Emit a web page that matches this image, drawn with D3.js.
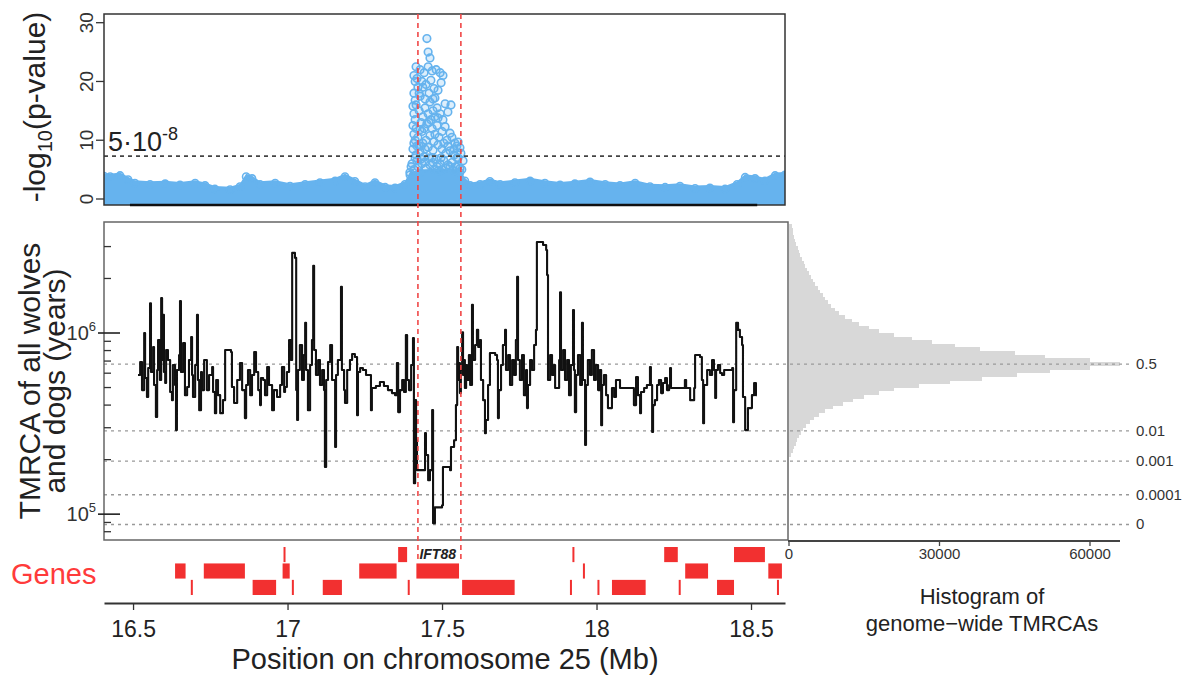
<!DOCTYPE html>
<html>
<head>
<meta charset="utf-8">
<script src="https://cdn.jsdelivr.net/npm/d3@7"></script>
<style>
  body { margin: 0; background: #fff; }
  svg { font-family: "Liberation Sans", Arial, Helvetica, sans-serif; }
</style>
</head>
<body>
<svg id="chart"></svg>
<script>
// ---------- Data ----------

// Tick values and labels
let positionTicks = [16.5, 17, 17.5, 18, 18.5];
let pvalueTicks = [0, 10, 20, 30];
let histTicks = [0, 30000, 60000];
let quantileLabels = ['0.5', '0.01', '0.001', '0.0001', '0'];
let quantileValues = [674e3, 288e3, 196e3, 128e3, 87.7e3];

// Region around IFT88 (red dashed lines), Mb
let regionBounds = [17.422, 17.561];

// GWAS background: upper edge of the dense SNP band [position Mb, -log10 p]
let backgroundTop = [
  [16.406, 4.4], [16.426, 4.3], [16.458, 4.5], [16.484, 3.8], [16.506, 3.2], [16.555, 3.0],
  [16.604, 3.1], [16.652, 2.9], [16.701, 3.2], [16.733, 2.8], [16.765, 2.2], [16.814, 2.1],
  [16.846, 2.6], [16.866, 4.3], [16.885, 4.0], [16.911, 3.0], [16.960, 3.2], [17.008, 2.7],
  [17.057, 3.0], [17.105, 3.3], [17.154, 3.6], [17.186, 4.3], [17.218, 3.5], [17.251, 2.6],
  [17.283, 3.3], [17.316, 2.5], [17.348, 2.4], [17.380, 3.0], [17.396, 4.6], [17.429, 5.0],
  [17.494, 5.2], [17.558, 5.0], [17.574, 3.6], [17.591, 2.8], [17.623, 3.0], [17.655, 3.5],
  [17.688, 3.0], [17.736, 3.3], [17.785, 3.6], [17.833, 3.2], [17.882, 2.9], [17.930, 3.1],
  [17.979, 3.4], [18.028, 3.0], [18.076, 2.8], [18.125, 3.2], [18.173, 2.6], [18.222, 2.5],
  [18.270, 2.7], [18.319, 2.3], [18.367, 2.4], [18.416, 2.2], [18.455, 3.0], [18.481, 4.2],
  [18.513, 4.0], [18.545, 3.6], [18.578, 4.5], [18.610, 4.6]
];

// GWAS peak SNPs [position Mb, -log10 p]
let peakSnps = [
  [17.451, 27.3], [17.455, 25.0], [17.461, 24.0], [17.416, 22.5], [17.429, 22.0], [17.442, 21.5],
  [17.455, 22.5], [17.468, 21.8], [17.481, 22.0], [17.494, 21.5], [17.503, 21.0], [17.419, 20.5],
  [17.435, 20.0], [17.448, 19.5], [17.464, 20.2], [17.474, 18.8], [17.487, 18.5], [17.497, 19.8],
  [17.422, 19.0], [17.409, 18.0], [17.429, 17.5], [17.445, 17.0], [17.461, 16.5], [17.477, 17.2],
  [17.510, 16.2], [17.529, 16.0], [17.519, 14.8], [17.416, 16.0], [17.426, 15.0], [17.438, 14.0],
  [17.455, 14.5], [17.471, 15.0], [17.487, 13.8], [17.510, 12.3], [17.526, 11.2], [17.552, 9.7],
  [17.558, 8.7], [17.542, 9.5], [17.532, 10.5], [17.516, 10.0], [17.500, 11.5], [17.484, 12.5],
  [17.468, 12.0], [17.451, 12.8], [17.432, 13.0], [17.413, 13.5], [17.409, 11.0], [17.422, 10.5],
  [17.435, 11.5], [17.448, 10.0], [17.461, 10.8], [17.474, 9.8], [17.487, 9.2], [17.500, 8.5],
  [17.513, 7.8], [17.526, 8.2], [17.539, 7.5], [17.552, 7.0], [17.561, 7.8], [17.568, 6.5],
  [17.406, 8.5], [17.416, 7.5], [17.429, 8.0], [17.442, 7.2], [17.455, 8.8], [17.468, 7.0],
  [17.481, 6.8], [17.494, 6.0], [17.506, 6.5], [17.519, 5.8], [17.532, 6.2], [17.545, 5.5],
  [17.558, 5.2], [17.403, 6.0], [17.409, 5.0], [17.422, 5.5], [17.435, 6.0], [17.448, 5.2],
  [17.461, 5.8], [17.474, 5.0], [17.487, 4.8], [17.500, 5.0], [17.396, 4.5], [17.400, 5.5],
  [17.426, 18.0], [17.438, 19.0], [17.445, 15.5], [17.458, 18.0], [17.471, 17.0], [17.484, 15.5],
  [17.413, 20.0], [17.442, 12.0], [17.494, 14.5], [17.503, 13.5], [17.426, 9.0], [17.438, 9.5],
  [17.458, 13.0], [17.477, 11.0], [17.490, 10.5], [17.506, 9.5], [17.519, 9.0], [17.539, 8.5],
  [17.548, 7.0], [17.409, 14.5], [17.413, 16.8], [17.409, 9.5], [17.413, 7.0], [17.416, 12.0],
  [17.419, 9.0], [17.406, 12.5], [17.413, 10.0], [17.406, 15.8], [17.409, 21.0], [17.419, 6.5],
  [17.432, 6.8], [17.445, 6.3], [17.458, 7.0], [17.471, 6.2], [17.484, 5.5], [17.497, 7.0],
  [17.513, 5.2], [17.526, 5.5], [17.539, 4.8], [17.552, 5.6], [17.564, 5.0], [17.432, 9.0],
  [17.445, 8.5], [17.471, 8.3], [17.429, 11.8], [17.464, 13.5], [17.477, 14.0], [17.548, 9.0]
];

// TMRCA of all wolves and dogs, step function [position Mb, TMRCA in thousand years]
let tmrcaSteps = [
  [16.516, 586], [16.523, 692], [16.529, 484], [16.536, 1000], [16.539, 564], [16.545, 443],
  [16.549, 641], [16.555, 1460], [16.558, 609], [16.565, 837], [16.568, 516], [16.574, 344],
  [16.578, 625], [16.581, 915], [16.587, 550], [16.591, 1560], [16.594, 709], [16.597, 1260],
  [16.600, 609], [16.604, 530], [16.607, 806], [16.613, 709], [16.620, 472], [16.626, 426],
  [16.629, 666], [16.636, 516], [16.639, 291], [16.642, 625], [16.649, 756], [16.652, 1500],
  [16.655, 609], [16.662, 881], [16.668, 454], [16.675, 503], [16.681, 709], [16.688, 950],
  [16.691, 586], [16.694, 443], [16.701, 666], [16.707, 1260], [16.710, 550], [16.714, 375],
  [16.720, 609], [16.723, 484], [16.730, 709], [16.739, 484], [16.746, 586], [16.756, 649],
  [16.759, 472], [16.765, 361], [16.769, 550], [16.775, 454], [16.782, 361], [16.791, 426],
  [16.798, 806], [16.817, 785], [16.820, 503], [16.827, 411], [16.837, 550], [16.846, 683],
  [16.853, 484], [16.862, 339], [16.866, 516], [16.872, 625], [16.879, 454], [16.885, 586],
  [16.892, 785], [16.898, 609], [16.905, 484], [16.911, 400], [16.914, 564], [16.921, 550],
  [16.927, 454], [16.934, 649], [16.940, 516], [16.950, 375], [16.956, 484], [16.966, 443],
  [16.976, 516], [16.982, 649], [16.989, 472], [16.992, 503], [16.998, 609], [17.005, 915],
  [17.011, 709], [17.015, 2770], [17.024, 2600], [17.028, 484], [17.031, 331], [17.034, 625],
  [17.040, 859], [17.047, 550], [17.053, 756], [17.057, 1140], [17.060, 625], [17.066, 375],
  [17.073, 666], [17.079, 915], [17.083, 2350], [17.086, 806], [17.092, 586], [17.099, 709],
  [17.105, 516], [17.112, 625], [17.118, 484], [17.121, 182], [17.125, 550], [17.131, 692],
  [17.138, 859], [17.144, 550], [17.154, 235], [17.157, 586], [17.163, 709], [17.173, 1800],
  [17.176, 625], [17.183, 484], [17.186, 411], [17.193, 625], [17.202, 709], [17.209, 766],
  [17.218, 737], [17.225, 352], [17.228, 609], [17.235, 641], [17.244, 625], [17.254, 586],
  [17.270, 375], [17.273, 497], [17.286, 510], [17.299, 536], [17.312, 510], [17.325, 484],
  [17.338, 466], [17.348, 454], [17.354, 683], [17.358, 366], [17.364, 484], [17.371, 550],
  [17.377, 472], [17.383, 975], [17.387, 550], [17.393, 484], [17.400, 666], [17.406, 938],
  [17.409, 148], [17.413, 426], [17.416, 256], [17.419, 175], [17.445, 280], [17.448, 212],
  [17.455, 154], [17.461, 175], [17.468, 375], [17.471, 89], [17.477, 109], [17.500, 112],
  [17.503, 182], [17.526, 175], [17.529, 235], [17.539, 256], [17.545, 400], [17.549, 837],
  [17.552, 550], [17.555, 683], [17.558, 466], [17.561, 625], [17.565, 1010], [17.568, 586],
  [17.571, 709], [17.574, 497], [17.578, 666], [17.581, 550], [17.587, 756], [17.591, 516],
  [17.597, 1430], [17.600, 709], [17.607, 859], [17.613, 1040], [17.617, 837], [17.623, 915],
  [17.626, 550], [17.633, 426], [17.639, 280], [17.642, 331], [17.649, 516], [17.655, 775],
  [17.672, 756], [17.678, 709], [17.681, 339], [17.684, 484], [17.691, 666], [17.697, 859],
  [17.704, 1040], [17.707, 625], [17.714, 756], [17.720, 516], [17.727, 709], [17.733, 586],
  [17.739, 915], [17.743, 2040], [17.746, 709], [17.752, 550], [17.759, 756], [17.765, 454],
  [17.772, 625], [17.775, 385], [17.778, 516], [17.785, 709], [17.791, 625], [17.798, 859],
  [17.804, 1040], [17.807, 3180], [17.827, 3060], [17.837, 2870], [17.840, 2090], [17.843, 550],
  [17.850, 756], [17.856, 586], [17.862, 666], [17.866, 497], [17.879, 709], [17.882, 1680],
  [17.885, 625], [17.892, 806], [17.898, 550], [17.905, 709], [17.911, 454], [17.917, 666],
  [17.924, 1340], [17.927, 625], [17.930, 366], [17.934, 586], [17.940, 756], [17.947, 516],
  [17.953, 1140], [17.956, 550], [17.963, 241], [17.966, 516], [17.972, 709], [17.979, 586],
  [17.985, 806], [17.992, 550], [17.998, 666], [18.005, 484], [18.011, 625], [18.015, 310],
  [18.018, 516], [18.024, 586], [18.031, 454], [18.037, 385], [18.050, 497], [18.057, 443],
  [18.063, 550], [18.076, 497], [18.121, 400], [18.128, 571], [18.134, 454], [18.141, 361],
  [18.144, 472], [18.154, 497], [18.163, 516], [18.173, 649], [18.176, 516], [18.180, 284],
  [18.183, 400], [18.189, 426], [18.196, 516], [18.202, 550], [18.209, 466], [18.215, 530],
  [18.222, 564], [18.228, 484], [18.235, 516], [18.238, 641], [18.241, 497], [18.286, 550],
  [18.290, 497], [18.303, 426], [18.316, 497], [18.319, 756], [18.335, 737], [18.341, 550],
  [18.345, 318], [18.348, 516], [18.358, 625], [18.367, 586], [18.374, 709], [18.380, 625],
  [18.384, 438], [18.387, 625], [18.393, 666], [18.400, 601], [18.406, 586], [18.413, 625],
  [18.439, 641], [18.442, 322], [18.445, 484], [18.452, 1140], [18.458, 1040], [18.464, 950],
  [18.471, 859], [18.474, 443], [18.481, 291], [18.490, 385], [18.503, 454], [18.510, 530],
  [18.516, 454], [18.519, 454]
];

// Genome-wide TMRCA histogram: counts per bin of log10(years)
let histFirstBin = 5.32;
let histBinWidth = 0.02;
let histCounts = [
  350, 750, 1050, 1350, 1650, 1950, 2400, 2850, 3450, 4100, 4900, 5900, 7100, 8700, 10800, 12700,
  15000, 18000, 21000, 26000, 32000, 38500, 45500, 52000, 60000, 66000, 60000, 51000, 45000, 38000,
  33000, 28500, 24500, 21000, 18000, 16000, 14000, 12500, 11200, 10000, 9200, 8400, 7800, 7200,
  6700, 6200, 5700, 5200, 4800, 4400, 4000, 3600, 3250, 2900, 2550, 2250, 1950, 1700, 1450, 1250,
  1050, 850, 700, 550
];

// Genes [start Mb, end Mb, track row]
let genes = [
  [16.987, 16.990, 0], [17.358, 17.387, 0], [17.922, 17.925, 0], [18.219, 18.263, 0], [18.445, 18.545, 0],
  [16.636, 16.670, 1], [16.729, 16.862, 1], [16.984, 17.007, 1], [17.232, 17.353, 1], [17.417, 17.555, 1],
  [17.956, 17.959, 1], [18.287, 18.361, 1], [18.556, 18.600, 1],
  [16.687, 16.690, 2], [16.887, 16.963, 2], [17.014, 17.017, 2], [17.114, 17.176, 2], [17.389, 17.392, 2],
  [17.565, 17.735, 2], [17.914, 17.917, 2], [18.003, 18.006, 2], [18.050, 18.159, 2], [18.266, 18.269, 2],
  [18.390, 18.445, 2], [18.584, 18.587, 2]
];

// ---------- Drawing ----------
let width = 1194, height = 675;
let blue = '#66b3ee', red = '#f23030';

let svg = d3.select('#chart').attr('width', width).attr('height', height);

let x = d3.scaleLinear().domain([16.406, 18.61]).range([104, 785]);
let yP = d3.scaleLinear().domain([0, 30]).range([199, 22.7]);
let yT = d3.scaleLog().domain([72000, 4100000]).range([540, 222]);
let xH = d3.scaleLinear().domain([0, 60000]).range([789, 1090]);
let rowY = d3.scaleBand().domain([0, 1, 2]).range([547, 595]).paddingInner(0.08);

let defs = svg.append('defs');
defs.append('clipPath').attr('id', 'clipTop')
  .append('rect').attr('x', 104).attr('y', 14).attr('width', 681).attr('height', 191);
defs.append('clipPath').attr('id', 'clipMid')
  .append('rect').attr('x', 104).attr('y', 222).attr('width', 684).attr('height', 318);
defs.append('clipPath').attr('id', 'clipHist')
  .append('rect').attr('x', 789).attr('y', 222).attr('width', 400).attr('height', 318);

// Function to draw the GWAS panel
function drawGwas() {
  let g = svg.append('g').attr('clip-path', 'url(#clipTop)');

  let band = d3.area()
    .x(d => x(d[0]))
    .y0(yP(-1))
    .y1(d => yP(d[1]));

  g.append('path')
    .datum(backgroundTop)
    .attr('d', band)
    .attr('fill', blue);

  g.selectAll('circle.bg')
    .data(backgroundTop)
    .enter()
    .append('circle')
    .attr('cx', d => x(d[0]))
    .attr('cy', d => yP(d[1] - 0.5))
    .attr('r', 3.6)
    .attr('fill', 'none')
    .attr('stroke', blue)
    .attr('stroke-width', 1.6);

  g.selectAll('circle.snp')
    .data(peakSnps)
    .enter()
    .append('circle')
    .attr('cx', d => x(d[0]))
    .attr('cy', d => yP(d[1]))
    .attr('r', 3.8)
    .attr('fill', 'rgba(102,179,238,0.22)')
    .attr('stroke', blue)
    .attr('stroke-width', 1.6);

  // genome-wide significance 5e-8
  g.append('line')
    .attr('x1', 104).attr('x2', 785)
    .attr('y1', yP(-Math.log10(5e-8))).attr('y2', yP(-Math.log10(5e-8)))
    .attr('stroke', '#444').attr('stroke-width', 1.8).attr('stroke-dasharray', '4,4');

  svg.append('rect')
    .attr('x', 104).attr('y', 14).attr('width', 681).attr('height', 191)
    .attr('fill', 'none').attr('stroke', '#333').attr('stroke-width', 1.5);
  svg.append('line')
    .attr('x1', x(16.49)).attr('x2', x(18.52)).attr('y1', 205).attr('y2', 205)
    .attr('stroke', '#111').attr('stroke-width', 2.5);

  pvalueTicks.forEach(t => {
    svg.append('line').attr('x1', 96).attr('x2', 104).attr('y1', yP(t)).attr('y2', yP(t))
      .attr('stroke', '#333').attr('stroke-width', 1.3);
    svg.append('text')
      .attr('transform', `translate(93,${yP(t)}) rotate(-90)`)
      .attr('text-anchor', 'middle')
      .attr('font-size', 19).attr('fill', '#333')
      .text(t);
  });

  let thr = svg.append('text').attr('x', 108).attr('y', 151).attr('font-size', 27).attr('fill', '#222');
  thr.append('tspan').text('5·10');
  thr.append('tspan').attr('dy', -11).attr('font-size', 18).text('-8');

  let title = svg.append('text')
    .attr('transform', 'translate(45,107) rotate(-90)')
    .attr('text-anchor', 'middle')
    .attr('font-size', 30).attr('fill', '#222');
  title.append('tspan').text('-log');
  title.append('tspan').attr('dy', 7).attr('font-size', 20).text('10');
  title.append('tspan').attr('dy', -7).text('(p-value)');
}

// Function to draw the TMRCA panel and the histogram
function drawTmrca() {
  // histogram
  svg.append('g').attr('clip-path', 'url(#clipHist)')
    .selectAll('rect')
    .data(histCounts)
    .enter()
    .append('rect')
    .attr('x', xH(0))
    .attr('y', (d, i) => yT(Math.pow(10, histFirstBin + (i + 1) * histBinWidth)))
    .attr('height', (d, i) => yT(Math.pow(10, histFirstBin + i * histBinWidth)) -
      yT(Math.pow(10, histFirstBin + (i + 1) * histBinWidth)) + 0.4)
    .attr('width', d => xH(d) - xH(0))
    .attr('fill', '#d8d8d8')
    .attr('shape-rendering', 'crispEdges');

  // quantile lines
  quantileValues.forEach((q, i) => {
    svg.append('line')
      .attr('x1', 104).attr('x2', 1130)
      .attr('y1', yT(q)).attr('y2', yT(q))
      .attr('stroke', '#999').attr('stroke-width', 1.3).attr('stroke-dasharray', '3,4');
    svg.append('text')
      .attr('x', 1136).attr('y', yT(q) + 5)
      .attr('font-size', 15).attr('fill', '#333')
      .text(quantileLabels[i]);
  });

  let line = d3.line()
    .x(d => x(d[0]))
    .y(d => yT(d[1] * 1000))
    .curve(d3.curveStepAfter);

  svg.append('g').attr('clip-path', 'url(#clipMid)')
    .append('path')
    .datum(tmrcaSteps)
    .attr('d', line)
    .attr('fill', 'none')
    .attr('stroke', '#111')
    .attr('stroke-width', 2.1)
    .attr('stroke-linejoin', 'round');

  svg.append('rect')
    .attr('x', 104).attr('y', 222).attr('width', 684).attr('height', 318)
    .attr('fill', 'none').attr('stroke', '#666').attr('stroke-width', 1.5);

  // y axis ticks (log)
  let minor = [8e4, 9e4, 2e5, 3e5, 4e5, 5e5, 6e5, 7e5, 8e5, 9e5, 2e6, 3e6];
  minor.forEach(v => {
    svg.append('line').attr('x1', 104).attr('x2', 111).attr('y1', yT(v)).attr('y2', yT(v))
      .attr('stroke', '#333').attr('stroke-width', 1.3);
  });
  [1e5, 1e6].forEach(v => {
    svg.append('line').attr('x1', 98).attr('x2', 120).attr('y1', yT(v)).attr('y2', yT(v))
      .attr('stroke', '#222').attr('stroke-width', 1.6);
    let lab = svg.append('text').attr('x', 96).attr('y', yT(v) + 7)
      .attr('text-anchor', 'end').attr('font-size', 20).attr('fill', '#333');
    lab.append('tspan').text('10');
    lab.append('tspan').attr('dy', -9).attr('font-size', 13).text(Math.round(Math.log10(v)));
  });

  let yTitle = svg.append('text')
    .attr('transform', 'translate(0,381) rotate(-90)')
    .attr('text-anchor', 'middle')
    .attr('font-size', 30).attr('fill', '#222');
  yTitle.append('tspan').attr('x', 0).attr('y', 40).text('TMRCA of all wolves');
  yTitle.append('tspan').attr('x', 0).attr('y', 65).text('and dogs (years)');

  // histogram axis
  svg.append('line').attr('x1', 788).attr('x2', 1120).attr('y1', 541).attr('y2', 541)
    .attr('stroke', '#444').attr('stroke-width', 1.8);
  histTicks.forEach(t => {
    svg.append('line').attr('x1', xH(t)).attr('x2', xH(t)).attr('y1', 541).attr('y2', 546)
      .attr('stroke', '#444').attr('stroke-width', 1.3);
    svg.append('text').attr('x', xH(t)).attr('y', 559)
      .attr('text-anchor', 'middle').attr('font-size', 15).attr('fill', '#333')
      .text(t);
  });
  svg.append('text').attr('x', 982).attr('y', 604).attr('text-anchor', 'middle')
    .attr('font-size', 22).attr('fill', '#222').text('Histogram of');
  svg.append('text').attr('x', 982).attr('y', 631).attr('text-anchor', 'middle')
    .attr('font-size', 22).attr('fill', '#222').text('genome\u2212wide TMRCAs');
}

// Function to draw the gene track and the position axis
function drawGenes() {
  svg.selectAll('rect.gene')
    .data(genes)
    .enter()
    .append('rect')
    .attr('x', d => x(d[0]))
    .attr('y', d => rowY(d[2]))
    .attr('width', d => Math.max(2, x(d[1]) - x(d[0])))
    .attr('height', rowY.bandwidth())
    .attr('fill', red);

  svg.append('text').attr('x', 11).attr('y', 584)
    .attr('font-size', 29).attr('fill', '#ff3b3b').text('Genes');

  svg.append('text').attr('x', (x(17.417) + x(17.555)) / 2).attr('y', 559)
    .attr('text-anchor', 'middle').attr('font-size', 14)
    .attr('font-weight', 'bold').attr('font-style', 'italic').attr('fill', '#222')
    .text('IFT88');

  let axis = d3.axisBottom(x).tickValues(positionTicks).tickSize(7).tickSizeOuter(0)
    .tickFormat(d3.format('~g'));
  let ga = svg.append('g').attr('transform', 'translate(0,603)').call(axis);
  ga.select('.domain').attr('stroke', '#333').attr('stroke-width', 1.8);
  ga.selectAll('.tick line').attr('stroke', '#333').attr('stroke-width', 1.3);
  ga.selectAll('.tick text').attr('font-size', 23).attr('fill', '#222')
    .attr('font-family', '"Liberation Sans", Arial, sans-serif').attr('dy', '1.05em');

  svg.append('text').attr('x', 445).attr('y', 669).attr('text-anchor', 'middle')
    .attr('font-size', 29).attr('fill', '#222').text('Position on chromosome 25 (Mb)');
}

// Function to draw the red dashed region lines
function drawRegion() {
  regionBounds.forEach(b => {
    svg.append('line')
      .attr('x1', x(b)).attr('x2', x(b)).attr('y1', 14).attr('y2', 560)
      .attr('stroke', '#f04848').attr('stroke-width', 1.6).attr('stroke-dasharray', '5,4');
  });
}

drawGwas();
drawTmrca();
drawGenes();
drawRegion();
</script>
</body>
</html>
